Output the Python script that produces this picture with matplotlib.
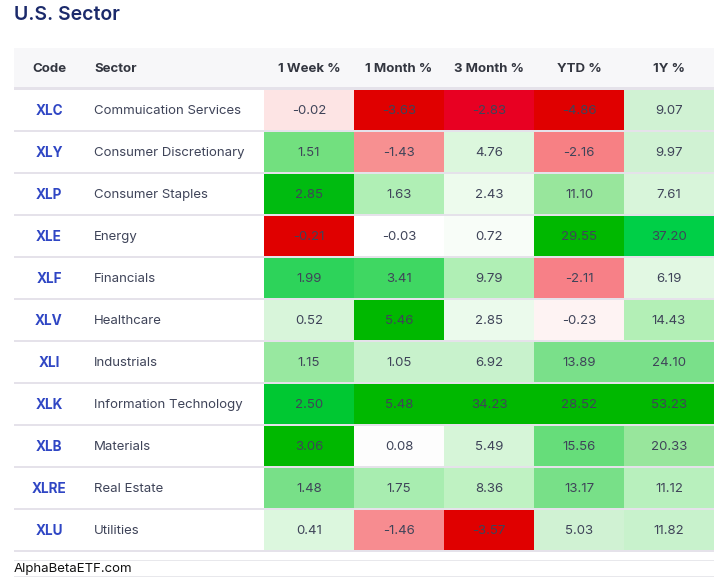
import matplotlib.pyplot as plt
from matplotlib.patches import Rectangle

# == dados da tabela ==
codes = ['XLC', 'XLY', 'XLP', 'XLE', 'XLF', 'XLV', 'XLI', 'XLK', 'XLB', 'XLRE', 'XLU']
sectors = ['Commuication Services', 'Consumer Discretionary', 'Consumer Staples',
           'Energy', 'Financials', 'Healthcare', 'Industrials',
           'Information Technology', 'Materials', 'Real Estate', 'Utilities']
columns = ['1 Week %', '1 Month %', '3 Month %', 'YTD %', '1Y %']

week_1 = [-0.02, 1.51, 2.85, -0.21, 1.99, 0.52, 1.15, 2.50, 3.06, 1.48, 0.41]
month_1 = [-3.63, -1.43, 1.63, -0.03, 3.41, 5.46, 1.05, 5.48, 0.08, 1.75, -1.46]
month_3 = [-2.83, 4.76, 2.43, 0.72, 9.79, 2.85, 6.92, 34.23, 5.49, 8.36, -3.57]
ytd = [-4.86, -2.16, 11.10, 29.55, -2.11, -0.23, 13.89, 28.52, 15.56, 13.17, 5.03]
one_year = [9.07, 9.97, 7.61, 37.20, 6.19, 14.43, 24.10, 53.23, 20.33, 11.12, 11.82]

series = [week_1, month_1, month_3, ytd, one_year]

# cores das celulas (heatmap), linha por linha
cell_colors = [
    ['#fde4e4', '#e00000', '#e80022', '#e00000', '#d0f2d3'],
    ['#72e07f', '#f79091', '#dcf7dd', '#f78084', '#d0f2d3'],
    ['#00bb10', '#b0efb5', '#edfbed', '#98e69c', '#d8f5da'],
    ['#e00000', '#ffffff', '#f8fdf8', '#00b800', '#00cf47'],
    ['#2dd35a', '#3fd762', '#b0efb5', '#f78087', '#e2f8e3'],
    ['#d8f5da', '#00b800', '#ebfaec', '#fef3f3', '#b3efb6'],
    ['#98e8a0', '#c8f2cc', '#c8f2cc', '#7ae08a', '#7ae08a'],
    ['#00c832', '#00b800', '#00b800', '#00b800', '#00b800'],
    ['#00b800', '#fdfdfd', '#d6f5d8', '#66dd7a', '#98e69c'],
    ['#78e088', '#a8edb0', '#bff2c2', '#78e088', '#b8f0bd'],
    ['#dcf7de', '#f78c90', '#e00000', '#d0f2d3', '#c8f2cc'],
]

plt.rcParams['font.family'] = ['Inter', 'DejaVu Sans']

W, H = 714, 579
fig = plt.figure(figsize=(W / 100, H / 100), dpi=100)
ax = fig.add_axes([0, 0, 1, 1])
ax.set_xlim(0, W)
ax.set_ylim(H, 0)
ax.axis('off')

txt = '#3f4459'
line = '#e5e2ea'
left, right = 14, 714
col_x0 = 264
col_w = 90
row_top = 90
row_h = 42

# titulo
ax.text(14, 15.5, 'U.S. Sector', fontsize=14, fontweight='semibold',
        color='#1b2a6b', va='center', ha='left')

# cabecalho
ax.add_patch(Rectangle((left, 48), right - left, 39, color='#f7f7f9', lw=0))
ax.add_patch(Rectangle((left, 87), right - left, 3, color=line, lw=0))
ax.text(49, 68.5, 'Code', fontsize=9.5, fontweight='bold', color='#333640',
        ha='center', va='center')
ax.text(94, 68.5, 'Sector', fontsize=9.5, fontweight='bold', color='#333640',
        ha='left', va='center')
for j, c in enumerate(columns):
    ax.text(col_x0 + col_w * (j + 0.5), 68.5, c, fontsize=9.5, fontweight='bold',
            color='#333640', ha='center', va='center')

# linhas
for i in range(len(codes)):
    y0 = row_top + row_h * i
    yc = y0 + 21
    ax.text(49, yc, codes[i], fontsize=9.75, fontweight='bold', color='#2f46c4',
            ha='center', va='center')
    ax.text(94, yc, sectors[i], fontsize=9.5, color=txt, ha='left', va='center')
    for j, s in enumerate(series):
        x0 = col_x0 + col_w * j
        ax.add_patch(Rectangle((x0, y0), col_w, 40, color=cell_colors[i][j], lw=0))
        ax.text(x0 + col_w / 2, yc, f'{s[i]:.2f}', fontsize=9.5, color=txt,
                ha='center', va='center')
    ax.add_patch(Rectangle((left, y0 + 40), right - left, 2, color=line, lw=0))

# rodape
ax.add_patch(Rectangle((left, 560), right - left, 1, color='#e8e8ec', lw=0))
ax.add_patch(Rectangle((left, 576), right - left, 1, color='#e8e8ec', lw=0))
ax.text(14, 569, 'AlphaBetaETF.com', fontsize=9.5, color='#111111',
        ha='left', va='center')

fig.savefig('out.png', dpi=100)
